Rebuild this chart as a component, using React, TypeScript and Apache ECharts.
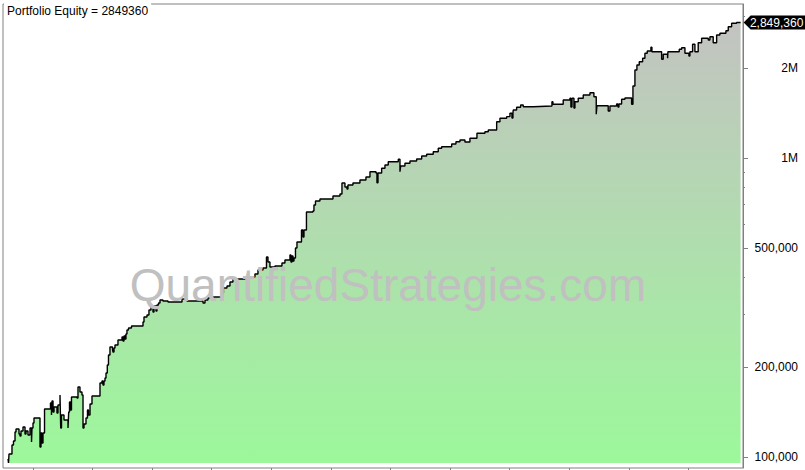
import React, { useEffect, useRef } from "react";
import * as echarts from "echarts";

const titleText = "Portfolio Equity = 2849360";
const watermarkText = "QuantifiedStrategies.com";
const lastValue = 2849360;

// time in months from the start of the chart
const months = [
  1.01, 1.11, 1.21, 1.81, 2.11, 2.42, 2.62, 3.22, 3.42, 3.62,
  4.03, 4.43, 4.63, 5.03, 5.44, 5.74, 5.84, 6.04, 6.24, 7.45,
  7.65, 7.85, 8.05, 8.36, 9.56, 9.76, 9.87, 10.07, 10.27, 10.87,
  11.07, 11.48, 11.62, 11.78, 12.28, 13.09, 13.23, 13.39, 13.59, 13.79,
  14.9, 15.1, 15.5, 15.9, 16.11, 16.31, 16.71, 17.01, 17.21, 17.52,
  17.92, 19.53, 19.93, 20.13, 20.33, 20.54, 20.74, 21.0, 21.24, 21.54,
  22.05, 22.15, 22.35, 22.55, 23.15, 23.96, 24.16, 24.36, 24.56, 24.76,
  24.96, 25.27, 25.87, 28.19, 28.39, 28.99, 29.39, 29.8, 30.2, 30.4,
  30.8, 31.0, 31.31, 31.61, 32.21, 33.22, 36.04, 37.04, 40.27, 40.67,
  41.27, 42.28, 44.19, 44.39, 45.1, 45.7, 46.3, 48.72, 50.73, 51.34,
  52.35, 53.05, 53.35, 53.75, 54.76, 56.17, 56.77, 57.78, 57.98, 58.18,
  58.39, 58.59, 58.89, 59.19, 60.1, 60.4, 60.6, 61.1, 62.41, 62.61,
  62.92, 63.82, 66.44, 67.85, 68.25, 68.85, 69.26, 69.46, 70.46, 71.87,
  73.08, 73.89, 75.1, 75.3, 75.5, 76.24, 76.91, 77.57, 79.59, 79.93,
  80.07, 80.93, 81.94, 83.29, 84.3, 85.3, 86.63, 87.64, 88.32, 90.34,
  91.2, 92.01, 93.01, 94.02, 95.43, 97.04, 97.71, 99.4, 100.06, 101.41,
  102.07, 102.48, 102.68, 102.74, 103.42, 104.23, 104.75, 106.76, 110.53, 110.73,
  112.8, 114.15, 114.35, 114.56, 114.96, 115.16, 115.82, 116.83, 118.18, 118.98,
  119.45, 119.59, 121.86, 122.21, 123.55, 123.82, 124.02, 124.56, 125.23, 126.57,
  126.84, 127.24, 127.64, 128.11, 128.79, 129.25, 129.72, 130.46, 130.66, 132.62,
  132.94, 133.82, 133.88, 136.16, 136.64, 137.31, 138.11, 138.31, 138.85, 139.32,
  139.98, 140.67, 142.0, 142.34, 143.0, 143.69, 144.35, 145.56, 146.03, 146.71,
  147.71, 148.52,
];

// portfolio equity ($)
const equity = [
  98300, 95350, 102200, 109500, 113000, 121100, 123900, 119200, 117400, 122000,
  125900, 119200, 122000, 118300, 124900, 112100, 124900, 129800, 134900, 107900,
  120200, 111300, 120200, 144600, 151500, 138100, 153800, 141300, 146900, 140200,
  149200, 161100, 124900, 138100, 132800, 124900, 141300, 152600, 143500, 158600,
  157400, 171300, 164900, 161100, 124900, 128800, 134900, 143500, 138100, 150300,
  159800, 176700, 179500, 174000, 179500, 183700, 190900, 203000, 219300, 233300,
  229700, 224400, 231500, 236900, 246200, 252000, 244300, 253900, 248100, 257800,
  265900, 270100, 274300, 282800, 294000, 298600, 310300, 317600, 305600, 320000,
  308000, 322600, 327600, 335200, 332700, 330100, 337800, 332700, 327600, 335200,
  340400, 343000, 353800, 367700, 373400, 385100, 394200, 400300, 409700, 422500,
  429100, 467000, 449300, 432400, 435700, 446000, 456400, 474300, 449300, 470700,
  452900, 463400, 500600, 524300, 575100, 545000, 575100, 661000, 666200, 697700,
  719500, 730700, 747700, 759300, 826500, 801400, 789100, 813800, 826500, 845800,
  865700, 901600, 892600, 828400, 892600, 925700, 949700, 974100, 992300, 901600,
  942400, 962100, 979400, 995000, 1017900, 1031300, 1052200, 1080200, 1093700, 1116600,
  1136700, 1151700, 1134000, 1166800, 1212800, 1227700, 1243900, 1326500, 1361800, 1378800,
  1415400, 1364600, 1418600, 1451700, 1482300, 1508900, 1489100, 1497100, 1547500, 1516800,
  1568000, 1588700, 1485600, 1588700, 1474100, 1547500, 1588700, 1629800, 1659000, 1608500,
  1404400, 1500500, 1440600, 1497100, 1520300, 1485600, 1520300, 1576700, 1592400, 1516800,
  1746900, 1976000, 2053900, 2106600, 2162700, 2247900, 2288100, 2354300, 2275600, 2146300,
  2230400, 2162700, 2275600, 2318300, 2346800, 2247900, 2201300, 2275600, 2409200, 2275600,
  2439300, 2523500, 2490600, 2555000, 2439300, 2588900, 2623000, 2676200, 2760100, 2833400,
  2849360, 2849360,
];

const yLabelValues = [100000, 200000, 500000, 1000000, 2000000];
const yMinorTickValues = [300000, 400000, 600000, 700000, 800000, 900000, 3000000];
const xTickValues = [6, 18, 30, 42, 54, 66, 78, 90, 102, 114, 126, 138];

const fmt = (v: number) => {
  const r = Math.round(v);
  if (r >= 1000000) return Math.round(r / 100000) / 10 + "M";
  return r.toLocaleString("en-US");
};

export default function App() {
  const ref = useRef<HTMLDivElement>(null);
  useEffect(() => {
    if (!ref.current) return;
    const chart = echarts.init(ref.current, undefined, { renderer: "svg" });
    const yMin = 91730;
    const yMax = 3288000;
    chart.setOption({
      animation: false,
      backgroundColor: "#ffffff",
      title: {
        text: titleText,
        left: 4,
        top: 3,
        padding: [2, 3, 2, 3],
        backgroundColor: "#ffffff",
        textStyle: {
          fontSize: 12,
          fontWeight: "normal",
          fontFamily: "Liberation Sans",
          color: "#000000",
        },
      },
      grid: {
        left: 3,
        top: 4,
        right: 62,
        bottom: 2,
        show: true,
        borderColor: "#808080",
        borderWidth: 1,
        backgroundColor: "transparent",
      },
      xAxis: {
        type: "value",
        min: 0,
        max: 149,
        axisLine: { show: false, onZero: false },
        axisTick: {
          show: true,
          customValues: xTickValues,
          length: 4,
          lineStyle: { color: "#808080" },
        },
        axisLabel: { show: false },
        splitLine: { show: false },
      },
      yAxis: [
        {
          type: "log",
          logBase: 10,
          min: yMin,
          max: yMax,
          position: "right",
          axisLine: { show: true, onZero: false, lineStyle: { color: "#808080" } },
          axisTick: {
            show: true,
            customValues: yLabelValues,
            length: 5,
            lineStyle: { color: "#808080" },
          },
          axisLabel: {
            customValues: yLabelValues,
            formatter: fmt,
            margin: 55,
            align: "right",
            fontSize: 12,
            fontFamily: "Liberation Sans",
            color: "#000000",
          },
          splitLine: { show: false },
        },
        {
          type: "log",
          logBase: 10,
          min: yMin,
          max: yMax,
          position: "right",
          axisLine: { show: false, onZero: false },
          axisTick: {
            show: true,
            customValues: yMinorTickValues,
            length: 2,
            lineStyle: { color: "#808080" },
          },
          axisLabel: { show: false },
          splitLine: { show: false },
        },
      ],
      graphic: [
        {
          type: "text",
          x: 388,
          y: 285,
          z: 100,
          silent: true,
          style: {
            text: watermarkText,
            fill: "#c0c0c0",
            fontSize: 46,
            fontFamily: "Liberation Sans",
            align: "center",
            verticalAlign: "middle",
          },
        },
      ],
      series: [
        {
          type: "line",
          yAxisIndex: 0,
          data: months.map((m, i) => [m, equity[i]]),
          step: "end",
          symbol: "none",
          showSymbol: false,
          silent: true,
          lineStyle: { color: "#000000", width: 1.4 },
          areaStyle: {
            origin: 95330,
            opacity: 1,
            color: new echarts.graphic.LinearGradient(0, 0, 0, 1, [
              { offset: 0, color: "#c3c3c1" },
              { offset: 1, color: "#9cf89b" },
            ]),
          },
          markPoint: {
            symbol: "path://M0,7L7,0L66,0L66,14L7,14Z",
            symbolSize: [66, 14],
            symbolKeepAspect: false,
            symbolOffset: [36, 0],
            itemStyle: { color: "#000000" },
            label: {
              show: true,
              position: "inside",
              offset: [0, 0],
              color: "#ffffff",
              fontSize: 12,
              fontFamily: "Liberation Sans",
              formatter: () => lastValue.toLocaleString("en-US"),
            },
            data: [{ coord: [months[months.length - 1], lastValue], value: lastValue }],
          },
        },
      ],
    });
    return () => chart.dispose();
  }, []);
  return (
    <div
      ref={ref}
      style={{ position: "fixed", left: 0, top: 0, width: 805, height: 470 }}
    />
  );
}
